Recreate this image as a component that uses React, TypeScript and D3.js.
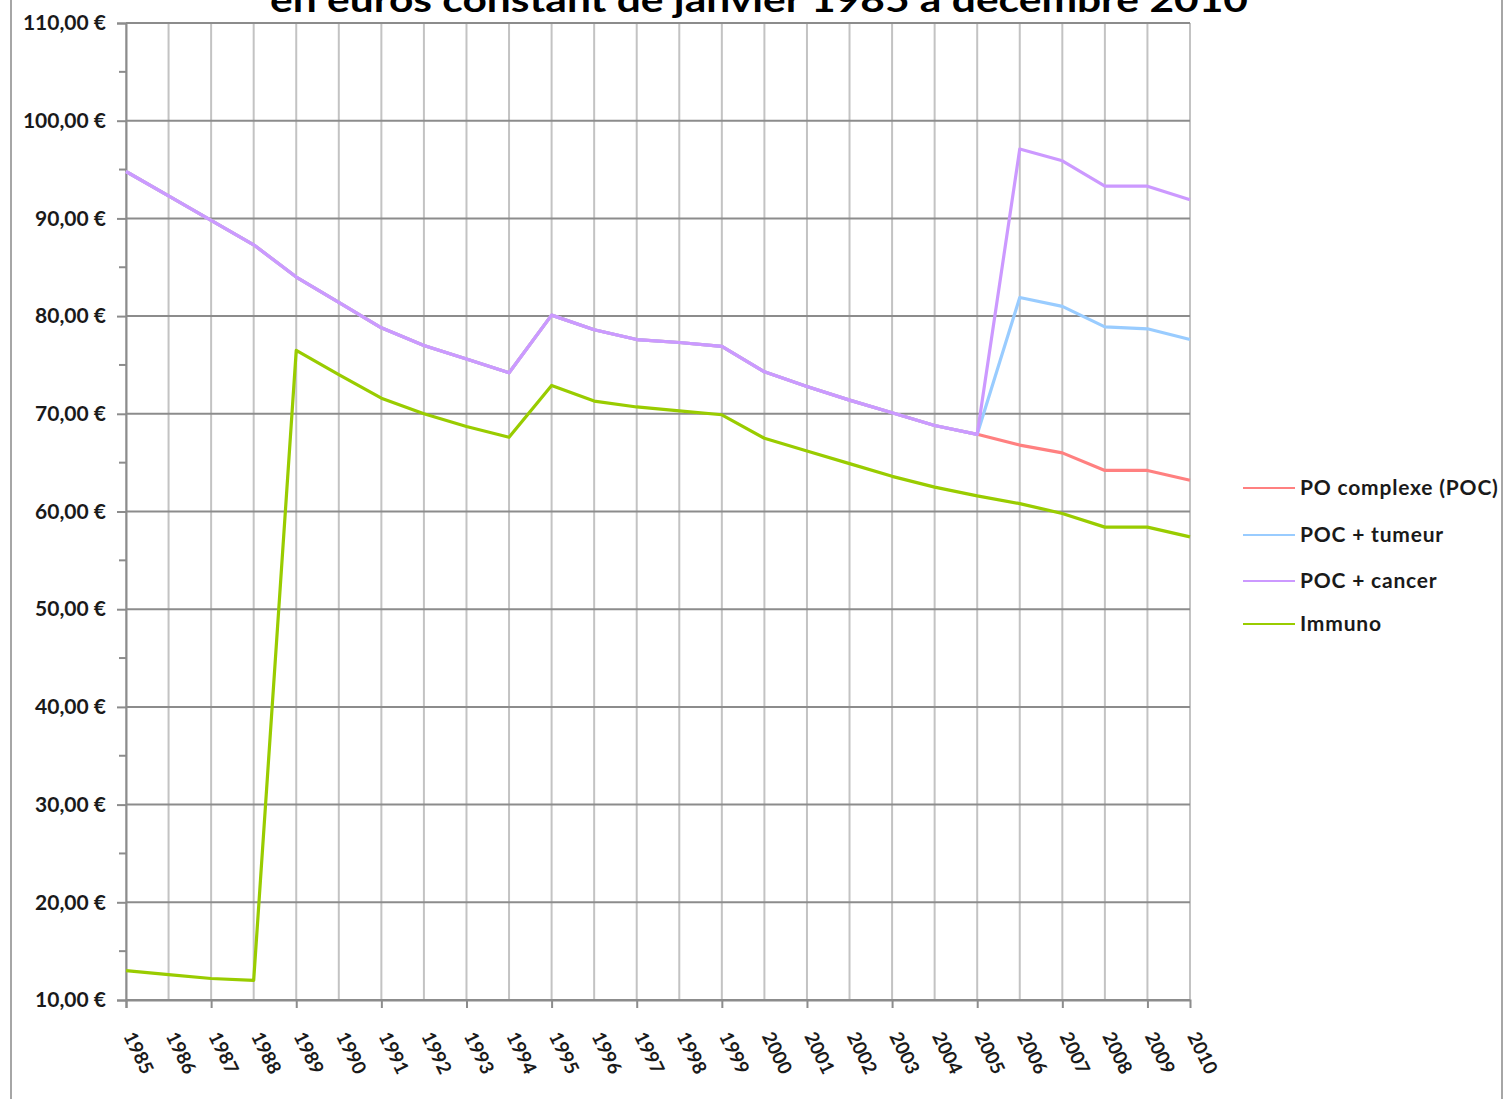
import * as d3 from "d3";
import { useEffect, useRef } from "react";

// years on the x axis
const years = [
  1985, 1986, 1987, 1988, 1989, 1990, 1991, 1992, 1993, 1994, 1995, 1996, 1997,
  1998, 1999, 2000, 2001, 2002, 2003, 2004, 2005, 2006, 2007, 2008, 2009, 2010,
];

// series values (euros constants)
const poc = [
  94.8, 92.3, 89.8, 87.3, 84.0, 81.4, 78.8, 77.0, 75.6, 74.2, 80.1, 78.6, 77.6,
  77.3, 76.9, 74.3, 72.8, 71.4, 70.1, 68.8, 67.9, 66.8, 66.0, 64.2, 64.2, 63.2,
];
const pocTumeur = [
  94.8, 92.3, 89.8, 87.3, 84.0, 81.4, 78.8, 77.0, 75.6, 74.2, 80.1, 78.6, 77.6,
  77.3, 76.9, 74.3, 72.8, 71.4, 70.1, 68.8, 67.9, 81.9, 81.0, 78.9, 78.7, 77.6,
];
const pocCancer = [
  94.8, 92.3, 89.8, 87.3, 84.0, 81.4, 78.8, 77.0, 75.6, 74.2, 80.1, 78.6, 77.6,
  77.3, 76.9, 74.3, 72.8, 71.4, 70.1, 68.8, 67.9, 97.1, 95.9, 93.3, 93.3, 91.9,
];
const immuno = [
  13.0, 12.6, 12.2, 12.0, 76.5, 74.0, 71.6, 70.0, 68.7, 67.6, 72.9, 71.3, 70.7,
  70.3, 69.9, 67.5, 66.2, 64.9, 63.6, 62.5, 61.6, 60.8, 59.8, 58.4, 58.4, 57.4,
];

const seriesNames = ["PO complexe (POC)", "POC + tumeur", "POC + cancer", "Immuno"];
const seriesColors = ["#ff8080", "#99ccff", "#cc99ff", "#99cc00"];
const seriesValues = [poc, pocTumeur, pocCancer, immuno];

const yTicks = [10, 20, 30, 40, 50, 60, 70, 80, 90, 100, 110];
const yMinorTicks = [15, 25, 35, 45, 55, 65, 75, 85, 95, 105];

const title = "en euros constant de janvier 1985 à décembre 2010";

export default function App() {
  const svgRef = useRef(null);

  const width = 1505;
  const height = 1099;

  useEffect(() => {
    const svg = d3.select(svgRef.current);
    svg.selectAll("*").remove();

    const font = "Lato, 'Open Sans', sans-serif";

    //scales
    const x = d3.scaleLinear().domain([1985, 2010]).range([126, 1190]);
    const y = d3.scaleLinear().domain([10, 110]).range([1000, 23]);

    const fr = d3.formatLocale({
      decimal: ",",
      thousands: " ",
      grouping: [3],
      currency: ["", " €"],
    });
    const fmt = fr.format("$.2f");

    //outer frame
    svg
      .append("rect")
      .attr("x", 11)
      .attr("y", -10)
      .attr("width", 1491)
      .attr("height", 1130)
      .attr("fill", "white")
      .attr("stroke", "#a6a6a6")
      .attr("stroke-width", 2);

    //title (first line is outside the picture)
    svg
      .append("text")
      .attr("x", 759)
      .attr("y", 12)
      .attr("text-anchor", "middle")
      .attr("font-family", font)
      .attr("font-weight", "bold")
      .attr("font-size", 34)
      .attr("textLength", 978)
      .attr("lengthAdjust", "spacingAndGlyphs")
      .attr("fill", "#000")
      .text(title);

    //vertical grid
    svg
      .append("g")
      .selectAll("line")
      .data(years)
      .enter()
      .append("line")
      .attr("x1", (d) => x(d))
      .attr("x2", (d) => x(d))
      .attr("y1", y(110))
      .attr("y2", y(10))
      .attr("stroke", "#c3c3c3")
      .attr("stroke-width", 2);

    //horizontal grid
    svg
      .append("g")
      .selectAll("line")
      .data(yTicks)
      .enter()
      .append("line")
      .attr("x1", x(1985))
      .attr("x2", x(2010))
      .attr("y1", (d) => y(d))
      .attr("y2", (d) => y(d))
      .attr("stroke", "#8c8c8c")
      .attr("stroke-width", 2);

    //y axis
    const yAxis = d3
      .axisLeft(y)
      .tickValues(yTicks)
      .tickSize(9)
      .tickPadding(11)
      .tickFormat((d) => fmt(d as number));
    const gy = svg.append("g").attr("transform", `translate(${x(1985)},0)`).call(yAxis);
    gy.select(".domain").attr("stroke", "#8c8c8c").attr("stroke-width", 2);
    gy.selectAll(".tick line").attr("stroke", "#8c8c8c").attr("stroke-width", 2);
    gy.selectAll(".tick text")
      .attr("font-family", font)
      .attr("font-size", 21)
      .attr("font-weight", "bold")
      .attr("fill", "#1a1a1a");

    svg
      .append("g")
      .selectAll("line")
      .data(yMinorTicks)
      .enter()
      .append("line")
      .attr("x1", x(1985) - 7)
      .attr("x2", x(1985))
      .attr("y1", (d) => y(d))
      .attr("y2", (d) => y(d))
      .attr("stroke", "#8c8c8c")
      .attr("stroke-width", 2);

    //x axis
    const xAxis = d3
      .axisBottom(x)
      .tickValues(years.filter((d, i) => i % 2 === 0))
      .tickSize(8)
      .tickFormat(() => "");
    const gx = svg.append("g").attr("transform", `translate(0,${y(10)})`).call(xAxis);
    gx.select(".domain").attr("stroke", "#8c8c8c").attr("stroke-width", 2);
    gx.selectAll(".tick line").attr("stroke", "#8c8c8c").attr("stroke-width", 2);

    svg
      .append("g")
      .selectAll("text")
      .data(years)
      .enter()
      .append("text")
      .attr("transform", (d) => `translate(${x(d) - 3},1036) rotate(64)`)
      .attr("font-family", font)
      .attr("font-size", 19)
      .attr("font-weight", "bold")
      .attr("fill", "#1a1a1a")
      .text((d) => d);

    //lines
    const line = d3
      .line<number>()
      .x((d, i) => x(years[i]))
      .y((d) => y(d));

    seriesValues.forEach((vals, i) => {
      svg
        .append("path")
        .datum(vals)
        .attr("d", line)
        .attr("fill", "none")
        .attr("stroke", seriesColors[i])
        .attr("stroke-width", 3.2)
        .attr("stroke-linejoin", "round");
    });

    //legend
    const legendY = [488, 535, 581, 624];
    const lg = svg
      .append("g")
      .selectAll("g")
      .data(seriesNames)
      .enter()
      .append("g")
      .attr("transform", (d, i) => `translate(1243,${legendY[i]})`);
    lg.append("line")
      .attr("x1", 0)
      .attr("x2", 52)
      .attr("stroke", (d, i) => seriesColors[i])
      .attr("stroke-width", 2);
    lg.append("text")
      .attr("x", 57)
      .attr("dy", "0.35em")
      .attr("font-family", font)
      .attr("font-size", 21)
      .attr("font-weight", "bold")
      .attr("letter-spacing", 0.8)
      .attr("fill", "#1a1a1a")
      .text((d) => d);
  }, []);

  return (
    <svg
      ref={svgRef}
      width={width}
      height={height}
      style={{ position: "absolute", left: 0, top: 0, background: "white" }}
    ></svg>
  );
}
